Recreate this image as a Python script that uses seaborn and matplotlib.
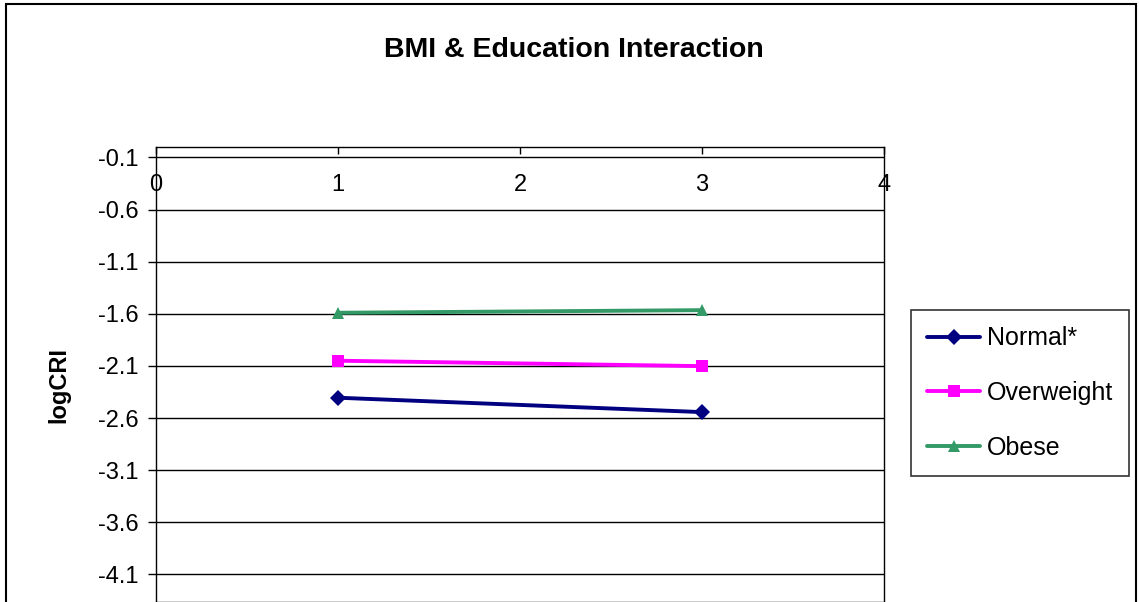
import matplotlib
matplotlib.use("Agg")
import matplotlib.pyplot as plt
from matplotlib.patches import Rectangle
import seaborn as sns
import pandas as pd

# Education level (x) and logCRI per BMI group
education = [1, 3]
normal = [-2.405, -2.543]
overweight = [-2.050, -2.102]
obese = [-1.590, -1.565]
groups = ["Normal*", "Overweight", "Obese"]
colors = ["#000080", "#FF00FF", "#339966"]
markers = ["D", "s", "^"]
x_ticks = [0, 1, 2, 3, 4]
y_ticks = [-0.1, -0.6, -1.1, -1.6, -2.1, -2.6, -3.1, -3.6, -4.1]

df = pd.DataFrame({
    "Education": education * 3,
    "logCRI": normal + overweight + obese,
    "BMI": [g for g in groups for _ in education],
})

sns.set_style("white")
plt.rcParams["font.family"] = ["Liberation Sans", "DejaVu Sans"]
plt.rcParams["text.color"] = "black"
plt.rcParams["xtick.color"] = "black"
plt.rcParams["ytick.color"] = "black"
plt.rcParams["axes.labelcolor"] = "black"

W, H = 1139, 602
fig = plt.figure(figsize=(W / 100, H / 100), dpi=100)
ax = fig.add_axes([156 / W, 0, (884 - 156) / W, 1 - 147 / H])

sns.lineplot(
    data=df, x="Education", y="logCRI", hue="BMI", style="BMI",
    hue_order=groups, style_order=groups,
    palette=dict(zip(groups, colors)),
    markers=dict(zip(groups, markers)), dashes=False,
    linewidth=2.8, markersize=8, markeredgewidth=0, ax=ax, legend=True,
)
handles, labels = ax.get_legend_handles_labels()
ax.get_legend().remove()

ax.set_xlim(0, 4)
ax.set_ylim(-(H - 147) / 104.25, 0)
ax.set_xticks(x_ticks)
ax.set_yticks(y_ticks)
ax.set_yticklabels([f"{v:.1f}" for v in y_ticks])
ax.grid(axis="y", color="black", linewidth=1)
ax.grid(axis="x", visible=False)
for s in ax.spines.values():
    s.set_color("black")
    s.set_linewidth(1)

ax.tick_params(axis="x", top=True, labeltop=True, bottom=False, labelbottom=False,
               direction="in", length=5, width=1, pad=-35, labelsize=17)
ax.tick_params(axis="y", left=True, direction="out", length=5.5, width=1,
               pad=7, labelsize=17)
ax.set_xlabel("")
ax.set_ylabel("logCRI", fontsize=17, fontweight="bold")
ax.yaxis.set_label_coords((59 - 156) / (884 - 156), (H - 385) / (H - 147))
ax.yaxis.label.set_va("center")

fig.text(574 / W, 1 - 50 / H, "BMI & Education Interaction", ha="center",
         va="center", fontsize=20.5, fontweight="bold")

leg = fig.legend(handles, labels, loc="upper left",
                 bbox_to_anchor=(911 / W, 1 - 310 / H), fontsize=18,
                 frameon=True, fancybox=False, framealpha=1, edgecolor="#333333",
                 handlelength=2.1, handletextpad=0.28, labelspacing=1.23,
                 borderpad=0.65, borderaxespad=0)
leg.get_frame().set_linewidth(1.2)

fig.patches.append(Rectangle((6 / W, -0.05), (1136 - 6) / W, 1.05 - 4 / H,
                             transform=fig.transFigure, fill=False,
                             edgecolor="black", linewidth=1.5))

fig.savefig("out.png", dpi=100)
